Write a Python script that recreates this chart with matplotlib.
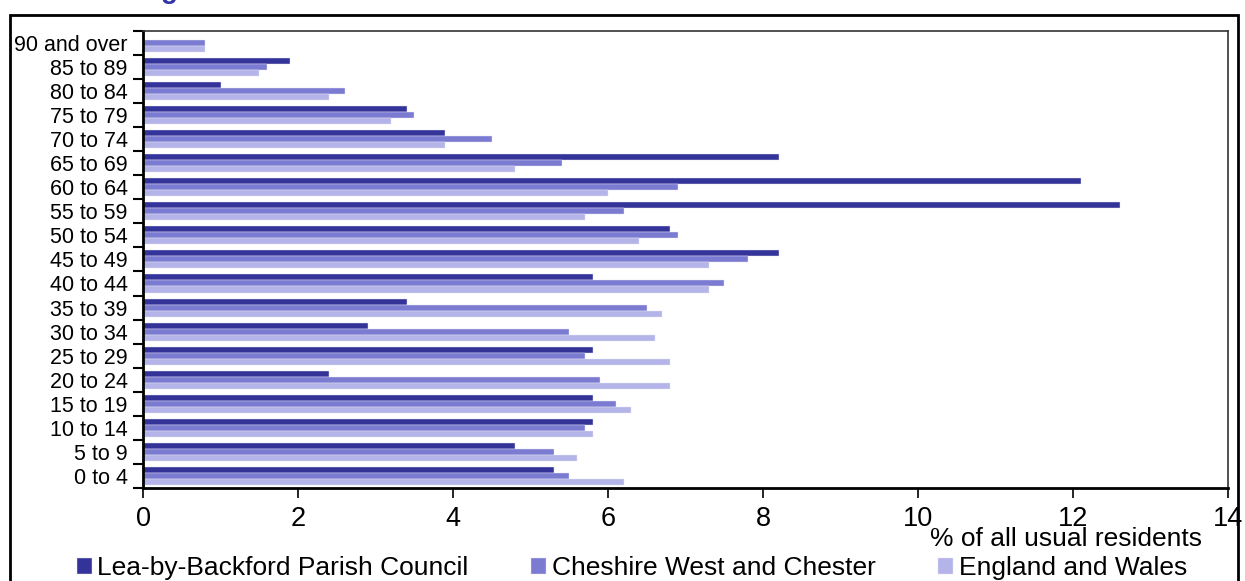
import matplotlib.pyplot as plt
import matplotlib.patches as mpatches
import numpy as np

plt.rcParams['font.family'] = ['Liberation Sans', 'DejaVu Sans']

age_bands = ['0 to 4', '5 to 9', '10 to 14', '15 to 19', '20 to 24', '25 to 29',
             '30 to 34', '35 to 39', '40 to 44', '45 to 49', '50 to 54', '55 to 59',
             '60 to 64', '65 to 69', '70 to 74', '75 to 79', '80 to 84', '85 to 89',
             '90 and over']
parish = [5.3, 4.8, 5.8, 5.8, 2.4, 5.8, 2.9, 3.4, 5.8, 8.2, 6.8, 12.6,
          12.1, 8.2, 3.9, 3.4, 1.0, 1.9, 0.0]
cheshire = [5.5, 5.3, 5.7, 6.1, 5.9, 5.7, 5.5, 6.5, 7.5, 7.8, 6.9, 6.2,
            6.9, 5.4, 4.5, 3.5, 2.6, 1.6, 0.8]
england = [6.2, 5.6, 5.8, 6.3, 6.8, 6.8, 6.6, 6.7, 7.3, 7.3, 6.4, 5.7,
           6.0, 4.8, 3.9, 3.2, 2.4, 1.5, 0.8]
series_names = ['Lea-by-Backford Parish Council', 'Cheshire West and Chester',
                'England and Wales']
colors = ['#333399', '#7b7bd2', '#b4b4e8']

fig = plt.figure(figsize=(12.45, 5.81), dpi=100)
ax = fig.add_axes([0.1149, 0.160, 0.8715, 0.787])

y = np.arange(len(age_bands))
h = 0.25
for i, (vals, c, name) in enumerate(zip([parish, cheshire, england], colors, series_names)):
    ax.barh(y + h - i * h, vals, height=h, color=c, edgecolor='#e6e6f6',
            linewidth=0.3, label=name)

ax.set_xlim(0, 14)
ax.set_ylim(-0.5, len(age_bands) - 0.5)
ax.set_xticks(np.arange(0, 15, 2))
ax.set_xticklabels([str(v) for v in range(0, 15, 2)], fontsize=19.5)
ax.set_yticks(y)
ax.set_yticklabels(age_bands, fontsize=15.5)
ax.tick_params(axis='y', length=0, pad=11)
ax.set_yticks(np.arange(-0.5, len(age_bands), 1), minor=True)
ax.tick_params(axis='y', which='minor', length=7, width=1.5)
ax.tick_params(axis='x', length=7, width=1.2, pad=6)
for s in ['left', 'bottom']:
    ax.spines[s].set_linewidth(2)
for s in ['top', 'right']:
    ax.spines[s].set_linewidth(1.2)
    ax.spines[s].set_color('#333333')

fig.text(1202 / 1245, 1 - 539 / 581, '% of all usual residents', fontsize=19,
         ha='right', va='center')

handles, labels = ax.get_legend_handles_labels()
leg = fig.legend(handles, labels, loc='center left', ncol=3, mode='expand',
                 bbox_to_anchor=(77 / 1245, 1 - 568 / 581, 1110 / 1245, 0.0),
                 frameon=False, fontsize=19, handlelength=0.57, handleheight=0.57,
                 handletextpad=0.2, borderaxespad=0, borderpad=0)

# outer frame
fig.patches.append(mpatches.Rectangle((10 / 1245, -0.02), 1228 / 1245, 0.994,
                                      transform=fig.transFigure, fill=False,
                                      edgecolor='black', linewidth=2))
fig.text(0.113, 1 + 1.5 / 581, 'Age Structure', fontsize=20, fontweight='bold',
         color='#3333aa', va='baseline')

fig.savefig('out.png', dpi=100)
